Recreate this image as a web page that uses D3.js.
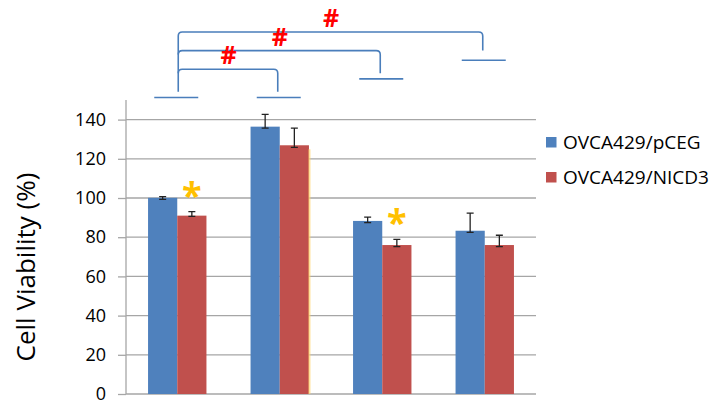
<!DOCTYPE html>
<html>
<head>
<meta charset="utf-8">
<script src="https://cdn.jsdelivr.net/npm/d3@7"></script>
<style>
  body { margin: 0; background: #fff; }
  text { font-family: "Open Sans", sans-serif; }
</style>
</head>
<body>
<div id="chart"></div>
<script>
/* cell viability bar chart, two cell lines, with error bars and # brackets */

const groups = ["g1", "g2", "g3", "g4"]; // categories have no visible labels
const series = ["OVCA429/pCEG", "OVCA429/NICD3"];
const pCEG = [100.1, 136.4, 88.3, 83.3];
const nicd3 = [91, 126.9, 76, 76];
const pCEGErrUp = [0.6, 6.3, 1.9, 9];   // error bar above the bar top
const pCEGErrDown = [0.8, 0.8, 0.9, 0.8];
const nicd3ErrUp = [2, 8.7, 2.9, 5];
const nicd3ErrDown = [0.4, 1.1, 0.8, 0.8];
const yTicks = [0, 20, 40, 60, 80, 100, 120, 140];
const starGroups = [0, 2]; // asterisk over the NICD3 bar
// comparison brackets: group 0 against another group
const bracketTo = [1, 2, 3];
const bracketLevel = [165.7, 175.2, 184.7];
const bracketEnd = [154.2, 163.6, 175.2];
const markerLevel = [151.3, 151.3, 160.8, 170.3]; // short line over each group

const width = 714, height = 401,
    margin = ({top: 100, right: 178, bottom: 7, left: 126});

const colors = ["#4F81BD", "#C0504D"];

let svg = d3.select("#chart")
    .append("svg")
    .attr("width", width)
    .attr("height", height);

const x = d3.scaleBand()
    .domain(groups)
    .range([margin.left, width - margin.right]);

const xs = d3.scaleBand() // position of the two bars inside a group
    .domain(series)
    .range([-29.2, 29.2]);

const y = d3.scaleLinear()
    .domain([0, 150])
    .range([height - margin.bottom, margin.top]);

// gridlines
svg.append("g")
    .selectAll("line")
    .data(yTicks.slice(1))
    .join("line")
    .attr("x1", margin.left)
    .attr("x2", width - margin.right)
    .attr("y1", d => y(d))
    .attr("y2", d => y(d))
    .attr("stroke", "#A6A6A6")
    .attr("stroke-width", 1.3);

// y axis
let yAxis = svg.append("g")
    .attr("transform", `translate(${margin.left},0)`)
    .call(d3.axisLeft(y).tickValues(yTicks).tickSize(8).tickPadding(12));
yAxis.selectAll("line, path").attr("stroke", "#A6A6A6").attr("stroke-width", 1.3);
yAxis.select(".domain").attr("d", `M0,${y(0)}V${y(150)}`);
yAxis.selectAll("text")
    .attr("font-family", "Open Sans")
    .attr("font-size", 18)
    .attr("fill", "#000");

// x axis (no labels)
svg.append("line")
    .attr("x1", margin.left)
    .attr("x2", width - margin.right)
    .attr("y1", y(0))
    .attr("y2", y(0))
    .attr("stroke", "#A6A6A6")
    .attr("stroke-width", 1.3);

svg.append("text")
    .attr("transform", `translate(35,${(y(0) + y(150)) / 2 + 20}) rotate(-90)`)
    .attr("text-anchor", "middle")
    .attr("font-size", 26)
    .text("Cell Viability (%)");

// bars
const rows = groups.map((g, i) => [
    {g: g, s: series[0], v: pCEG[i], up: pCEGErrUp[i], down: pCEGErrDown[i], c: colors[0]},
    {g: g, s: series[1], v: nicd3[i], up: nicd3ErrUp[i], down: nicd3ErrDown[i], c: colors[1]}
]).flat();

let bar = svg.selectAll(".bar")
    .data(rows)
    .join("g")
    .attr("class", "bar");

bar.append("rect")
    .attr("x", d => x(d.g) + x.bandwidth() / 2 + xs(d.s))
    .attr("width", xs.bandwidth())
    .attr("y", d => y(d.v))
    .attr("height", d => y(0) - y(d.v))
    .attr("fill", d => d.c);

// faint orange edge on the second NICD3 bar, as in the picture
svg.append("line")
    .attr("x1", x(groups[1]) + x.bandwidth() / 2 + xs(series[1]) + xs.bandwidth() + 0.5)
    .attr("x2", x(groups[1]) + x.bandwidth() / 2 + xs(series[1]) + xs.bandwidth() + 0.5)
    .attr("y1", y(nicd3[1]) + 4)
    .attr("y2", y(0))
    .attr("stroke", "#FFD36B")
    .attr("stroke-opacity", 0.7)
    .attr("stroke-width", 2);

// error bars
const cx = d => x(d.g) + x.bandwidth() / 2 + xs(d.s) + xs.bandwidth() / 2;
bar.append("path")
    .attr("d", d => {
        let top = y(d.v + d.up), bot = y(d.v - d.down), c = cx(d);
        return `M${c},${top}V${bot}M${c - 3.5},${top}H${c + 3.5}M${c - 3.5},${bot}H${c + 3.5}`;
    })
    .attr("fill", "none")
    .attr("stroke", "#222")
    .attr("stroke-width", 1.3);

// asterisks (six-armed glyph, like the original)
svg.selectAll(".star")
    .data(starGroups)
    .join("text")
    .attr("class", "star")
    .attr("x", i => cx({g: groups[i], s: series[1]}))
    .attr("y", i => y(nicd3[i] + nicd3ErrUp[i]) - 4)
    .attr("text-anchor", "middle")
    .attr("font-family", "DejaVu Sans")
    .attr("font-weight", "bold")
    .attr("font-size", 36)
    .attr("fill", "#FFC000")
    .text("*");

// brackets over the chart
const gc = i => x(groups[i]) + x.bandwidth() / 2;
const blue = "#4A7EBB";

svg.selectAll(".marker")
    .data(markerLevel)
    .join("line")
    .attr("class", "marker")
    .attr("x1", (d, i) => gc(i) - 23)
    .attr("x2", (d, i) => gc(i) + 21)
    .attr("y1", d => y(d))
    .attr("y2", d => y(d))
    .attr("stroke", blue)
    .attr("stroke-width", 1.6);

// shared left leg
svg.append("path")
    .attr("d", `M${gc(0) + 1},${y(bracketEnd[0])}V${y(bracketLevel[2]) + 4}`)
    .attr("fill", "none")
    .attr("stroke", blue)
    .attr("stroke-width", 1.6);

svg.selectAll(".bracket")
    .data(bracketTo)
    .join("path")
    .attr("class", "bracket")
    .attr("d", (t, i) => {
        let x0 = gc(0) + 1, x1 = gc(t) - 2, yl = y(bracketLevel[i]), ye = y(bracketEnd[i]);
        return `M${x0},${yl + 4}Q${x0},${yl} ${x0 + 4},${yl}H${x1 - 4}Q${x1},${yl} ${x1},${yl + 4}V${ye}`;
    })
    .attr("fill", "none")
    .attr("stroke", blue)
    .attr("stroke-width", 1.6);

svg.selectAll(".hash")
    .data(bracketTo)
    .join("text")
    .attr("class", "hash")
    .attr("x", (t, i) => (gc(0) + gc(t)) / 2)
    .attr("y", (t, i) => y(bracketLevel[i]) - 5)
    .attr("text-anchor", "middle")
    .attr("font-family", "Liberation Sans")
    .attr("font-weight", "bold")
    .attr("font-size", 25)
    .attr("fill", "#FF0000")
    .text("#");

// legend
let legend = svg.selectAll(".legend")
    .data(series)
    .join("g")
    .attr("class", "legend")
    .attr("transform", (d, i) => `translate(546,${137 + i * 35})`);

legend.append("rect")
    .attr("width", 10.5)
    .attr("height", 10.5)
    .attr("fill", (d, i) => colors[i]);

legend.append("text")
    .attr("x", 17)
    .attr("y", 11.5)
    .attr("font-size", 19)
    .text(d => d);
</script>
</body>
</html>
